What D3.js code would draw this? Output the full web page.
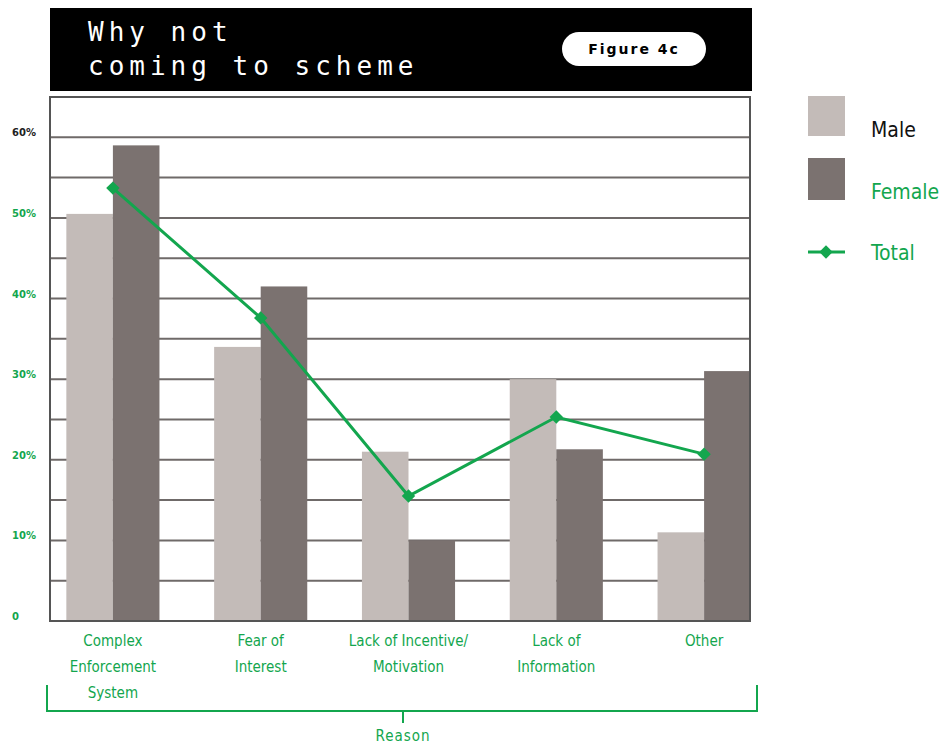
<!DOCTYPE html>
<html>
<head>
<meta charset="utf-8">
<script src="https://cdn.jsdelivr.net/npm/d3@7"></script>
<style>
  html, body { margin: 0; padding: 0; background: #fff; }
  svg { display: block; }
</style>
</head>
<body>
<svg id="chart" width="944" height="746"></svg>
<script>
// Reasons for not coming to the scheme, by gender (% of respondents)
const categories = [
  ["Complex", "Enforcement", "System"],
  ["Fear of", "Interest"],
  ["Lack of Incentive/", "Motivation"],
  ["Lack of", "Information"],
  ["Other"]
];
const male   = [50.5, 34, 21, 30, 11];
const female = [59, 41.5, 10, 21.3, 31];
const total  = [53.7, 37.6, 15.5, 25.3, 20.7];
const yTickValues = [0, 10, 20, 30, 40, 50, 60];
const gridValues = d3.range(5, 65, 5);
const seriesNames = ["Male", "Female", "Total"];

const GREEN = "#13a64e";
const MALE_C = "#c3bbb8";
const FEMALE_C = "#7b7270";
const FRAME_C = "#555";

const svg = d3.select("#chart");

const plot = { left: 50, right: 750, top: 97, bottom: 621 };

const y = d3.scaleLinear().domain([0, 65]).range([plot.bottom, plot.top]);
const x = d3.scaleBand()
  .domain(d3.range(categories.length))
  .range([39, 778])
  .paddingInner(0.37)
  .paddingOuter(0.185);
const xSub = d3.scaleBand().domain(["m", "f"]).range([0, x.bandwidth()]);

// Marker: a square turned on its corner, so it reads as a compact diamond
const marker = d3.symbol(d3.symbolSquare, 90);

// Title banner
svg.append("rect")
  .attr("x", 50).attr("y", 8).attr("width", 702).attr("height", 83)
  .attr("fill", "#000");

const titleFont = "'DejaVu Sans Mono', monospace";
svg.append("text")
  .attr("x", 88).attr("y", 41)
  .attr("fill", "#fff")
  .attr("font-family", titleFont)
  .attr("font-size", 26)
  .attr("letter-spacing", 5)
  .text("Why not");
svg.append("text")
  .attr("x", 88).attr("y", 75)
  .attr("fill", "#fff")
  .attr("font-family", titleFont)
  .attr("font-size", 26)
  .attr("letter-spacing", 5)
  .text("coming to scheme");

// "Figure 4c" badge
svg.append("rect")
  .attr("x", 562).attr("y", 32).attr("width", 144).attr("height", 34)
  .attr("rx", 17).attr("ry", 17)
  .attr("fill", "#fff");
svg.append("text")
  .attr("x", 634).attr("y", 54)
  .attr("text-anchor", "middle")
  .attr("fill", "#000")
  .attr("font-family", "'DejaVu Sans', sans-serif")
  .attr("font-weight", "bold")
  .attr("font-size", 14)
  .attr("letter-spacing", 2)
  .text("Figure 4c");

// Gridlines
svg.append("g")
  .selectAll("line")
  .data(gridValues)
  .join("line")
  .attr("x1", plot.left).attr("x2", plot.right)
  .attr("y1", d => y(d)).attr("y2", d => y(d))
  .attr("stroke", "#6f6a69")
  .attr("stroke-width", 2);

// Bars
const groups = svg.append("g")
  .selectAll("g")
  .data(categories.map((c, i) => i))
  .join("g")
  .attr("transform", i => `translate(${x(i)},0)`);

groups.append("rect")
  .attr("x", xSub("m"))
  .attr("width", xSub.bandwidth())
  .attr("y", i => y(male[i]))
  .attr("height", i => y(0) - y(male[i]))
  .attr("fill", MALE_C);

groups.append("rect")
  .attr("x", xSub("f"))
  .attr("width", xSub.bandwidth())
  .attr("y", i => y(female[i]))
  .attr("height", i => y(0) - y(female[i]))
  .attr("fill", FEMALE_C);

// Frame
svg.append("rect")
  .attr("x", plot.left).attr("y", plot.top)
  .attr("width", plot.right - plot.left)
  .attr("height", plot.bottom - plot.top)
  .attr("fill", "none")
  .attr("stroke", FRAME_C)
  .attr("stroke-width", 2);

// Total line
const cx = i => x(i) + xSub("f");
const line = d3.line().x(d => cx(d.i)).y(d => y(d.v));
const totalPts = total.map((v, i) => ({ i, v }));
svg.append("path")
  .datum(totalPts)
  .attr("d", line)
  .attr("fill", "none")
  .attr("stroke", GREEN)
  .attr("stroke-width", 3);
svg.append("g")
  .selectAll("path")
  .data(totalPts)
  .join("path")
  .attr("d", marker)
  .attr("transform", d => `translate(${cx(d.i)},${y(d.v)}) rotate(45)`)
  .attr("fill", GREEN);

// Y tick labels
svg.append("g")
  .selectAll("text")
  .data(yTickValues)
  .join("text")
  .attr("x", 12)
  .attr("y", d => y(d) - 1)
  .attr("fill", d => d === 60 ? "#222" : GREEN)
  .attr("font-family", "'DejaVu Sans', sans-serif")
  .attr("font-weight", "bold")
  .attr("font-size", 10)
  .text(d => d === 0 ? "0" : d + "%");

// Category labels
const catFont = "'Liberation Sans Narrow', 'DejaVu Sans Condensed', sans-serif";
const catLabels = svg.append("g")
  .selectAll("text")
  .data(categories.map((c, i) => ({ c, i })))
  .join("text")
  .attr("text-anchor", "middle")
  .attr("fill", GREEN)
  .attr("font-family", catFont)
  .attr("font-size", 15);
catLabels.selectAll("tspan")
  .data(d => d.c.map(t => ({ t, i: d.i })))
  .join("tspan")
  .attr("x", d => cx(d.i))
  .attr("y", (d, k) => 646 + k * 26)
  .text(d => d.t);

// Axis title bracket
const bracket = d3.path();
bracket.moveTo(47, 685);
bracket.lineTo(47, 711);
bracket.lineTo(757, 711);
bracket.lineTo(757, 685);
bracket.moveTo(403, 711);
bracket.lineTo(403, 723);
svg.append("path")
  .attr("d", bracket.toString())
  .attr("fill", "none")
  .attr("stroke", GREEN)
  .attr("stroke-width", 2);
svg.append("text")
  .attr("x", 403).attr("y", 741)
  .attr("text-anchor", "middle")
  .attr("fill", GREEN)
  .attr("font-family", catFont)
  .attr("font-size", 15)
  .attr("letter-spacing", 1)
  .text("Reason");

// Legend
const legendFont = "'Liberation Sans Narrow', 'DejaVu Sans Condensed', sans-serif";
const legend = svg.append("g");
legend.append("rect")
  .attr("x", 808).attr("y", 96).attr("width", 37).attr("height", 40)
  .attr("fill", MALE_C);
legend.append("rect")
  .attr("x", 808).attr("y", 158).attr("width", 37).attr("height", 42)
  .attr("fill", FEMALE_C);
legend.append("line")
  .attr("x1", 808).attr("x2", 845).attr("y1", 252).attr("y2", 252)
  .attr("stroke", GREEN).attr("stroke-width", 3);
legend.append("path")
  .attr("d", marker)
  .attr("transform", "translate(826,252) rotate(45)")
  .attr("fill", GREEN);
legend.selectAll("text.lg")
  .data(seriesNames)
  .join("text")
  .attr("class", "lg")
  .attr("x", 871)
  .attr("y", (d, k) => [137, 199, 260][k])
  .attr("fill", (d, k) => k === 0 ? "#111" : GREEN)
  .attr("font-family", legendFont)
  .attr("font-size", 21)
  .text(d => d);
</script>
</body>
</html>
